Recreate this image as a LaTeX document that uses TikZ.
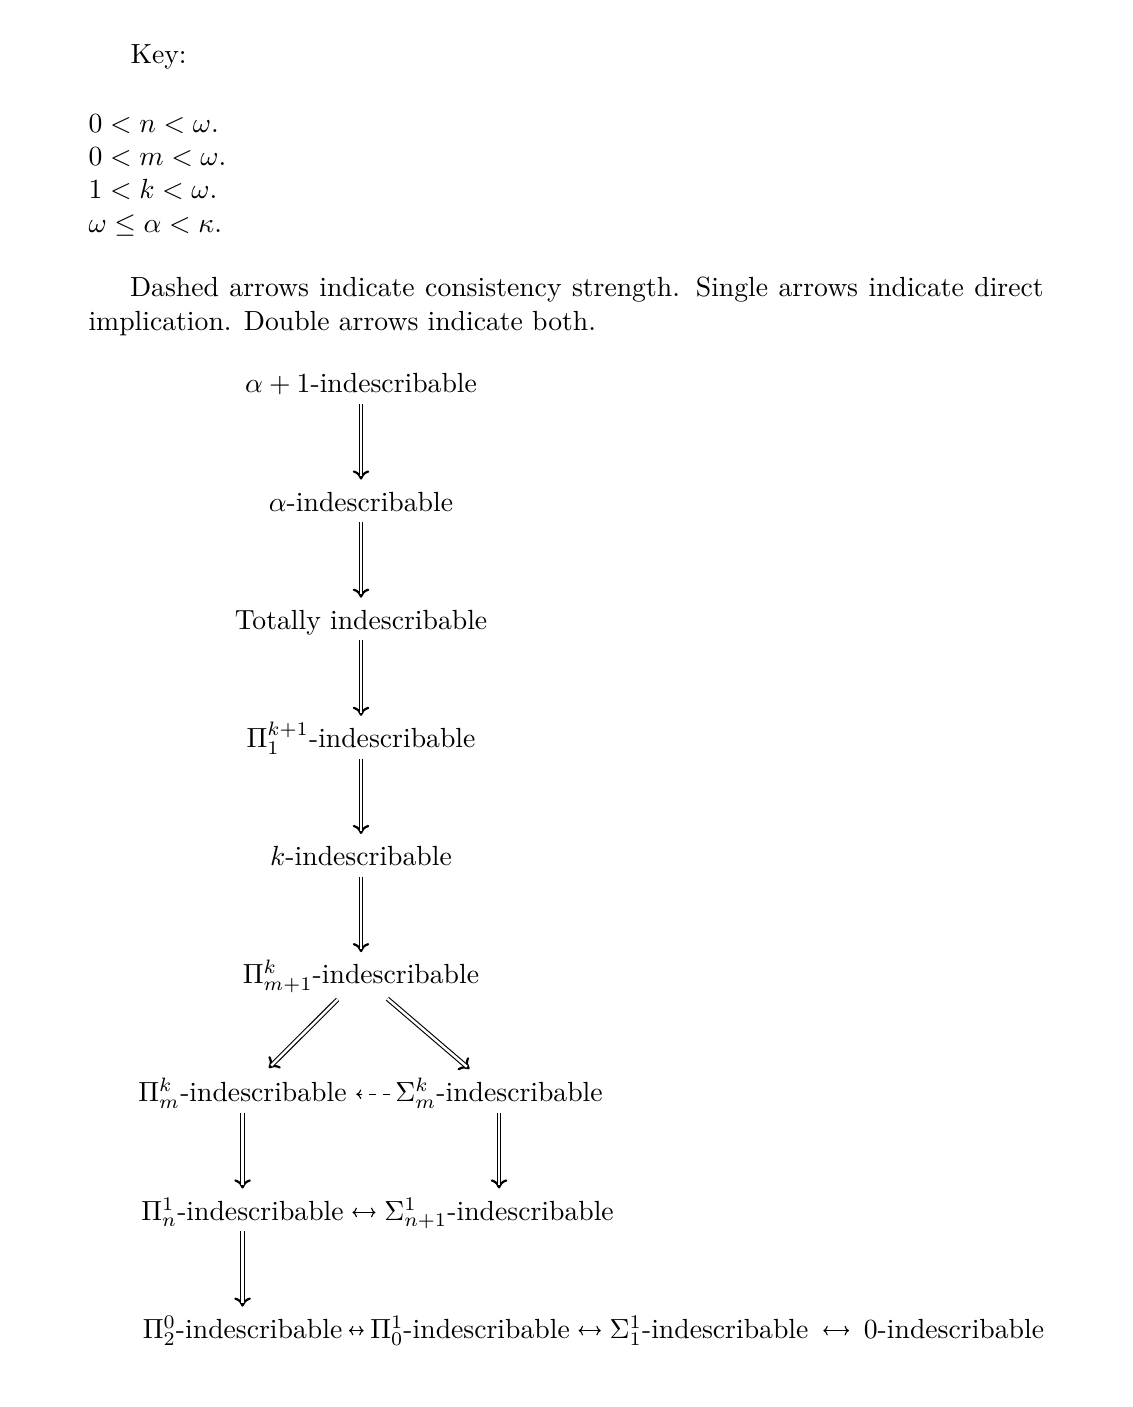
\documentclass[tikz,border=0pt]{standalone}
\usepackage{amsmath}
\usepackage{amssymb}
\usetikzlibrary{arrows.meta}
\usetikzlibrary{positioning}

\tikzstyle{ind}=[inner sep=0pt,outer sep=0pt,text height=8pt,text depth=2.5pt]
\tikzstyle{both}=[every edge/.style={draw,line width=0.4pt,double,double distance=0.9pt,-,
  shorten <=1.5pt,shorten >=4.6pt,
  preaction={draw,-{To[length=3.3pt,width=6pt,line width=0.8pt]},shorten >=3.4pt}}]
\tikzstyle{bothdiag}=[every edge/.style={draw,line width=0.4pt,double,double distance=0.9pt,-,
  shorten <=4.5pt,shorten >=7.2pt,
  preaction={draw,-{To[length=3.3pt,width=6pt,line width=0.8pt]},shorten >=6pt}}]
\tikzstyle{iff}=[every edge/.style={draw,line width=0.4pt,{To[length=1.6pt,width=3.5pt]}-{To[length=1.6pt,width=3.5pt]},shorten <=3.2pt,shorten >=3.2pt}]
\tikzstyle{cons}=[every edge/.style={draw,line width=0.4pt,dash pattern=on 2.6pt off 2.4pt,-{To[length=1.8pt,width=3.5pt]}}]

\begin{document}
\begin{tikzpicture}[node distance=1.5cm]
\path[use as bounding box] (0,0) rectangle (14.383,-17.862);

% key
\node[anchor=base west,inner sep=0] (key) at (1.650,-0.812) {Key:};
\node[anchor=north west,inner sep=0,align=left] (vars) at (1.117,-1.447) {$0<n<\omega$.\\ $0<m<\omega$.\\ $1<k<\omega$.\\ $\omega\leq\alpha<\kappa$.};
\node[anchor=north west,inner sep=0,text width=345pt,align=justify] (legend) at (1.117,-3.514) {\hspace*{15pt}Dashed arrows indicate consistency strength. Single arrows indicate direct implication. Double arrows indicate both.};

% diagram
\node[ind] (a1) at (4.583,-4.892) {$\alpha+1$-indescribable};
\node[ind,below of=a1] (a) {$\alpha$-indescribable};
\node[ind,below of=a] (tot) {Totally indescribable};
\node[ind,below of=tot] (P1k) {$\Pi^{k+1}_1$-indescribable};
\node[ind,below of=P1k] (k) {$k$-indescribable};
\node[ind,below of=k] (Pkm1) {$\Pi^k_{m+1}$-indescribable};
\node[ind,below of=Pkm1,xshift=-1.504cm] (Pkm) {$\Pi^k_m$-indescribable};
\node[ind,right of=Pkm,node distance=3.256cm] (Skm) {$\Sigma^k_m$-indescribable};
\node[ind,below of=Pkm] (P1n) {$\Pi^1_n$-indescribable};
\node[ind,below of=Skm] (S1n1) {$\Sigma^1_{n+1}$-indescribable};
\node[ind,below of=P1n] (P02) {$\Pi^0_2$-indescribable};
\node[ind,right of=P02,node distance=2.888cm] (P10) {$\Pi^1_0$-indescribable};
\node[ind,right of=P10,node distance=3.034cm] (S11) {$\Sigma^1_1$-indescribable};
\node[ind,right of=S11,node distance=3.110cm] (zero) {$0$-indescribable};

\path[both]
(a1) edge (a) (a) edge (tot) (tot) edge (P1k) (P1k) edge (k) (k) edge (Pkm1)
(Pkm) edge (P1n) (P1n) edge (P02)
(Skm) edge (S1n1)
;
\path[bothdiag]
(Pkm1) edge (Pkm) (Pkm1) edge (Skm)
;
\path[iff]
(P1n) edge (S1n1)
(P02) edge[shorten <=2.4pt,shorten >=2.4pt] (P10)
(P10) edge (S11)
(S11) edge[shorten <=5.4pt,shorten >=5.4pt] (zero)
;
\path[cons] (Skm) edge[shorten <=2pt,shorten >=3.5pt] (Pkm);

\end{tikzpicture}
\end{document}
